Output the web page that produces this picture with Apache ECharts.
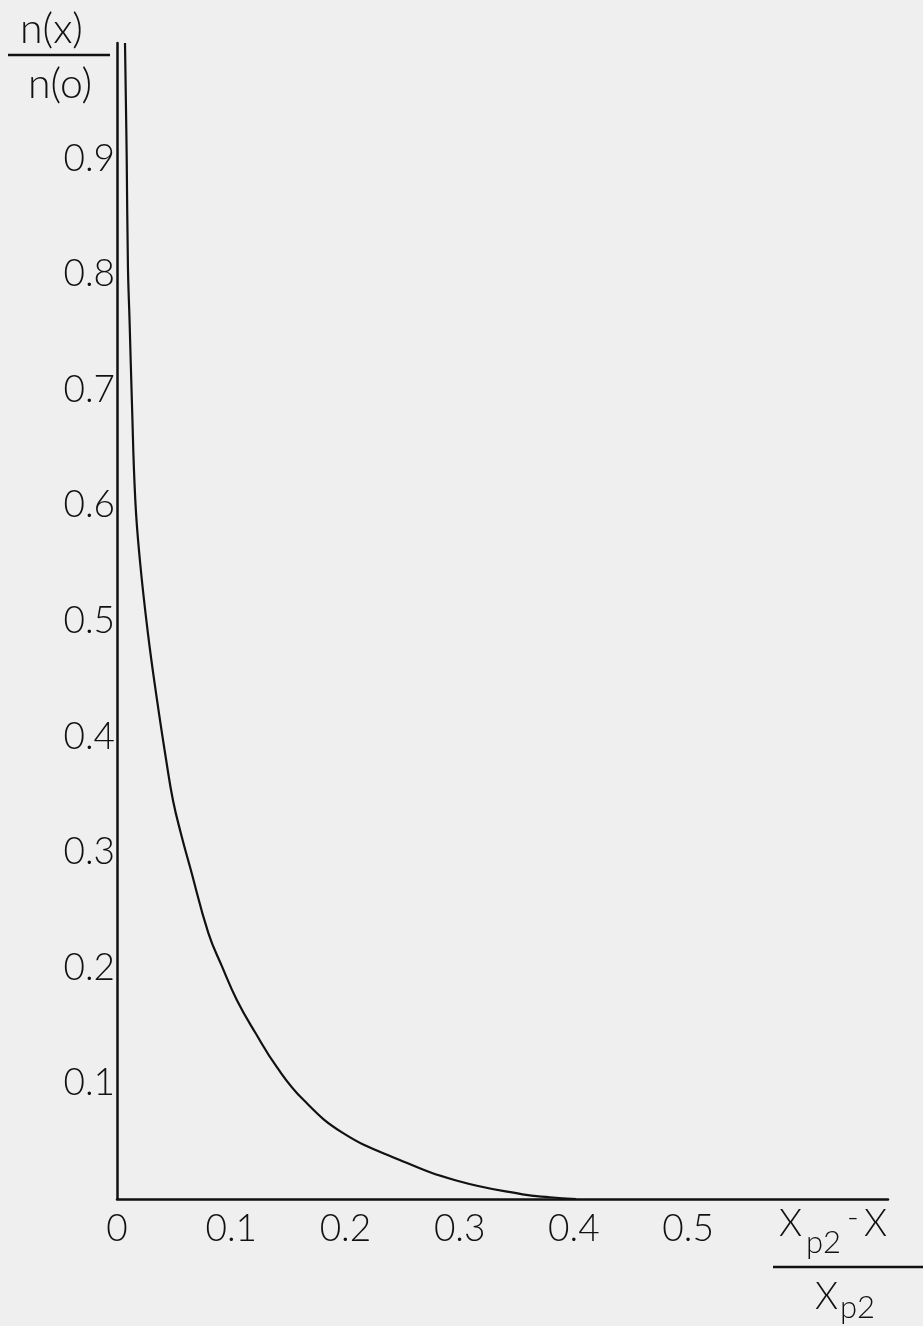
<!DOCTYPE html>
<html>
<head>
<meta charset="utf-8">
<style>
  html, body { margin: 0; padding: 0; background: #efefef; }
  #chart { width: 923px; height: 1326px; }
</style>
<script src="https://cdn.jsdelivr.net/npm/echarts@6/dist/echarts.min.js"></script>
</head>
<body>
<div id="chart"></div>
<script>
// Data: x = (Xp2 - X)/Xp2, y = n(x)/n(o)
const xValues = [0.007, 0.0085, 0.0096, 0.011, 0.013, 0.016, 0.020, 0.027, 0.035, 0.043, 0.049, 0.056, 0.064, 0.080, 0.092, 0.105, 0.121, 0.140, 0.163, 0.198, 0.247, 0.297, 0.355, 0.379, 0.402];
const yValues = [1.000, 0.900, 0.805, 0.760, 0.691, 0.605, 0.553, 0.490, 0.432, 0.380, 0.345, 0.316, 0.287, 0.230, 0.201, 0.172, 0.144, 0.114, 0.086, 0.057, 0.034, 0.016, 0.004, 0.0015, 0.000];
const xTickLabels = ['0', '0.1', '0.2', '0.3', '0.4', '0.5'];
const yTickLabels = ['', '0.1', '0.2', '0.3', '0.4', '0.5', '0.6', '0.7', '0.8', '0.9', ''];

const FONT = 'Lato';
const INK = '#111111';

const chart = echarts.init(document.getElementById('chart'), null, { renderer: 'canvas' });

const points = xValues.map((x, i) => [x, yValues[i]]);

chart.setOption({
  backgroundColor: '#efefef',
  animation: false,
  grid: { left: 117, right: 35, top: 43, bottom: 127, containLabel: false, outerBoundsMode: 'none' },
  xAxis: {
    type: 'value', min: 0, max: 0.675, interval: 0.1,
    axisLine: { show: true, onZero: false, lineStyle: { color: INK, width: 2.5 } },
    axisTick: { show: false },
    splitLine: { show: false },
    axisLabel: {
      margin: 12, fontSize: 37, fontFamily: FONT, fontWeight: 300, color: INK,
      showMaxLabel: false,
      formatter: function (v) {
        const i = Math.round(v * 10);
        return (i >= 0 && i < xTickLabels.length) ? xTickLabels[i] : '';
      }
    }
  },
  yAxis: {
    type: 'value', min: 0, max: 1.0, interval: 0.1,
    axisLine: { show: true, onZero: false, lineStyle: { color: INK, width: 2.5 } },
    axisTick: { show: false },
    splitLine: { show: false },
    axisLabel: {
      margin: 2, fontSize: 37, fontFamily: FONT, fontWeight: 300, color: INK,
      formatter: function (v) {
        const i = Math.round(v * 10);
        return yTickLabels[i] || '';
      }
    }
  },
  series: [{
    type: 'line',
    data: points,
    smooth: 0.45,
    showSymbol: false,
    lineStyle: { color: INK, width: 2.2 }
  }],
  graphic: [
    { type: 'text', left: 20, top: 9, style: { text: 'n(x)', fontSize: 41, fontFamily: FONT, fontWeight: 300, fill: INK } },
    { type: 'line', shape: { x1: 8, y1: 55, x2: 110, y2: 55 }, style: { stroke: INK, lineWidth: 2.5 } },
    { type: 'text', left: 28, top: 64, style: { text: 'n(o)', fontSize: 41, fontFamily: FONT, fontWeight: 300, fill: INK } },

    { type: 'text', left: 779, top: 1206, style: { text: 'X', fontSize: 37, fontFamily: FONT, fontWeight: 300, fill: INK } },
    { type: 'text', left: 806, top: 1227, style: { text: 'p2', fontSize: 31, fontFamily: FONT, fontWeight: 300, fill: INK } },
    { type: 'text', left: 847, top: 1202, style: { text: '-', fontSize: 32, fontFamily: FONT, fontWeight: 300, fill: INK } },
    { type: 'text', left: 864, top: 1206, style: { text: 'X', fontSize: 37, fontFamily: FONT, fontWeight: 300, fill: INK } },
    { type: 'line', shape: { x1: 773, y1: 1267, x2: 923, y2: 1267 }, style: { stroke: INK, lineWidth: 2.5 } },
    { type: 'text', left: 815, top: 1279, style: { text: 'X', fontSize: 37, fontFamily: FONT, fontWeight: 300, fill: INK } },
    { type: 'text', left: 840, top: 1292, style: { text: 'p2', fontSize: 31, fontFamily: FONT, fontWeight: 300, fill: INK } }
  ]
});
</script>
</body>
</html>
